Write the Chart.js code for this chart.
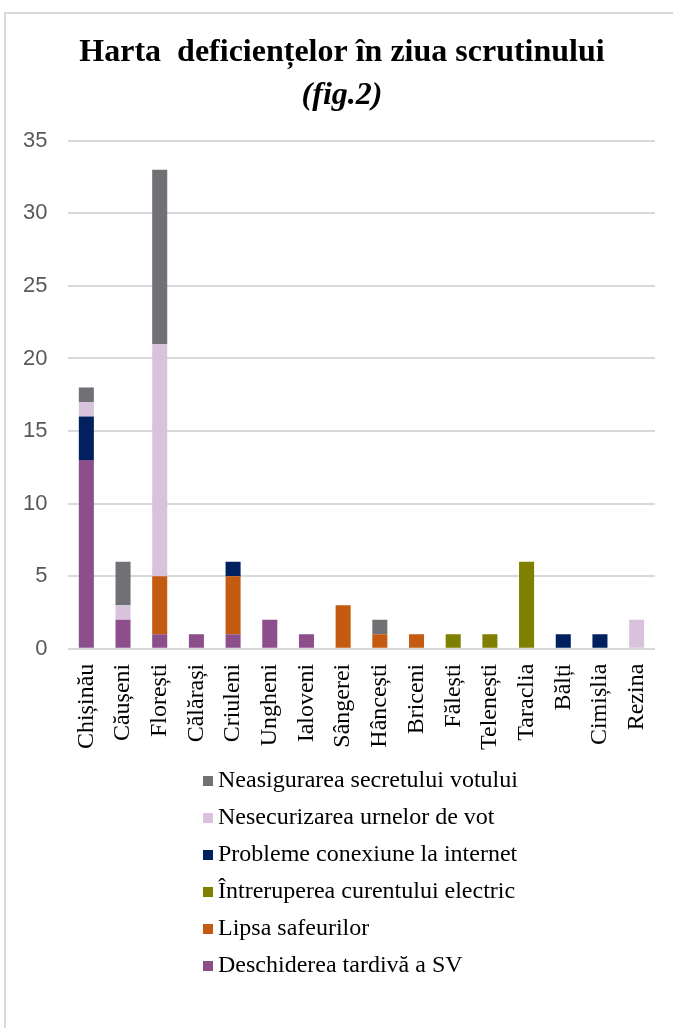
<!DOCTYPE html>
<html>
<head>
<meta charset="utf-8">
<script src="https://cdn.jsdelivr.net/npm/chart.js@4.4.0/dist/chart.umd.min.js"></script>
<style>
  html, body { margin: 0; padding: 0; background: #fff; }
  #wrap { position: relative; width: 673px; height: 1028px; overflow: hidden; }
  #frame { position: absolute; left: 4px; top: 12px; width: 700px; height: 1100px;
           border-top: 2px solid #d9d9d9; border-left: 2px solid #d9d9d9; }
  #legend { position: absolute; left: 203px; top: 762px; font-family: "Liberation Serif", serif;
            font-size: 24px; color: #000; }
  #legend div { height: 37px; line-height: 34px; white-space: nowrap; }
  #legend span { display: inline-block; width: 10px; height: 10px; margin-right: 5px; vertical-align: 1px; }
</style>
</head>
<body>
<div id="wrap">
  <div id="frame"></div>
  <canvas id="chart" width="673" height="1028"></canvas>
  <div id="legend"></div>
</div>
<script>
const categories = ['Chișinău', 'Căușeni', 'Florești', 'Călărași', 'Criuleni', 'Ungheni', 'Ialoveni',
  'Sângerei', 'Hâncești', 'Briceni', 'Fălești', 'Telenești', 'Taraclia', 'Bălți', 'Cimișlia', 'Rezina'];

const deschiderea = [13, 2, 1, 1, 1, 2, 1, 0, 0, 0, 0, 0, 0, 0, 0, 0];
const lipsaSafeuri = [0, 0, 4, 0, 4, 0, 0, 3, 1, 1, 0, 0, 0, 0, 0, 0];
const intrerupere = [0, 0, 0, 0, 0, 0, 0, 0, 0, 0, 1, 1, 6, 0, 0, 0];
const internet = [3, 0, 0, 0, 1, 0, 0, 0, 0, 0, 0, 0, 0, 1, 1, 0];
const urne = [1, 1, 16, 0, 0, 0, 0, 0, 0, 0, 0, 0, 0, 0, 0, 2];
const secret = [1, 3, 12, 0, 0, 0, 0, 0, 1, 0, 0, 0, 0, 0, 0, 0];

const yTicks = [0, 5, 10, 15, 20, 25, 30, 35];

const datasets = [
  { label: 'Deschiderea tardivă a SV', data: deschiderea, backgroundColor: '#8c4f8c' },
  { label: 'Lipsa safeurilor', data: lipsaSafeuri, backgroundColor: '#c55a11' },
  { label: 'Întreruperea curentului electric', data: intrerupere, backgroundColor: '#7f7f00' },
  { label: 'Probleme conexiune la internet', data: internet, backgroundColor: '#002060' },
  { label: 'Nesecurizarea urnelor de vot', data: urne, backgroundColor: '#d9c3dc' },
  { label: 'Neasigurarea secretului votului', data: secret, backgroundColor: '#717175' }
];

// legend, top item = last dataset (like Excel)
const legend = document.getElementById('legend');
datasets.slice().reverse().forEach(ds => {
  const row = document.createElement('div');
  const box = document.createElement('span');
  box.style.background = ds.backgroundColor;
  row.appendChild(box);
  row.appendChild(document.createTextNode(ds.label));
  legend.appendChild(row);
});

new Chart(document.getElementById('chart'), {
  type: 'bar',
  data: {
    labels: categories,
    datasets: datasets.map(d => ({ ...d, barPercentage: 0.82, categoryPercentage: 0.5, borderWidth: 0 }))
  },
  options: {
    responsive: false,
    animation: false,
    layout: { padding: { left: 29, right: 18, top: 6, bottom: 271 } },
    plugins: {
      legend: { display: false },
      tooltip: { enabled: false },
      title: {
        display: true,
        text: 'Harta  deficiențelor în ziua scrutinului',
        color: '#000',
        font: { family: 'Liberation Serif', size: 32, weight: 'bold' },
        padding: { top: 28, bottom: 4 }
      },
      subtitle: {
        display: true,
        text: '(fig.2)',
        color: '#000',
        font: { family: 'Liberation Serif', size: 32, weight: 'bold', style: 'italic' },
        padding: { bottom: 26 }
      }
    },
    scales: {
      x: {
        stacked: true,
        grid: { display: false },
        border: { display: false },
        ticks: {
          color: '#000',
          font: { family: 'Liberation Serif', size: 24 },
          maxRotation: 90, minRotation: 90, padding: 7
        }
      },
      y: {
        stacked: true,
        min: 0, max: 35,
        afterBuildTicks: axis => { axis.ticks = yTicks.map(v => ({ value: v })); },
        // narrow axis box; mirrored labels are not clipped, pushed back left of the plot
        afterFit: axis => { axis.width = 39; },
        grid: { color: '#d9d9d9', lineWidth: 2, drawTicks: false },
        border: { display: false },
        ticks: {
          color: '#595959',
          font: { family: 'Liberation Sans', size: 22 },
          mirror: true,
          crossAlign: 'far',
          padding: -45
        }
      }
    }
  }
});
</script>
</body>
</html>
